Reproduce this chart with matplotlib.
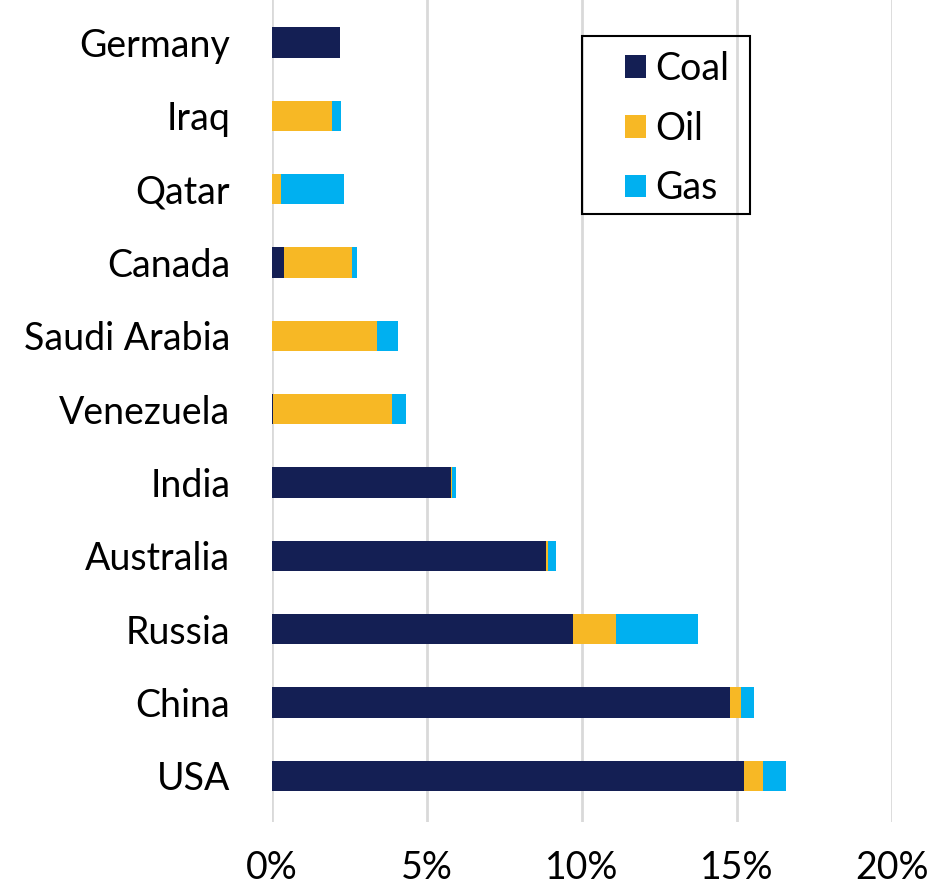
import matplotlib.pyplot as plt
from matplotlib.ticker import FuncFormatter
from matplotlib.patches import Rectangle

countries = ["USA", "China", "Russia", "Australia", "India", "Venezuela",
             "Saudi Arabia", "Canada", "Qatar", "Iraq", "Germany"]
coal = [15.24, 14.79, 9.72, 8.83, 5.76, 0.03, 0.0, 0.39, 0.0, 0.0, 2.19]
oil = [0.61, 0.34, 1.39, 0.07, 0.05, 3.83, 3.38, 2.18, 0.30, 1.94, 0.0]
gas = [0.73, 0.43, 2.64, 0.26, 0.12, 0.47, 0.69, 0.18, 2.01, 0.29, 0.0]

plt.rcParams['font.family'] = ['Lato', 'DejaVu Sans']

W, H = 932, 886
fig = plt.figure(figsize=(W/100, H/100), dpi=100)
ax = fig.add_axes([272/W, 1-822/H, 620/W, 822/H])

y = list(range(len(countries)))
h = 0.41
ax.barh(y, coal, height=h, color="#141f54", label="Coal", zorder=3)
ax.barh(y, oil, height=h, left=coal, color="#f7b825", label="Oil", zorder=3)
left3 = [c + o for c, o in zip(coal, oil)]
ax.barh(y, gas, height=h, left=left3, color="#00b0f0", label="Gas", zorder=3)

ax.set_xlim(0, 20)
ax.set_ylim(-0.63, 10.58)
ax.set_xticks([0, 5, 10, 15, 20])
ax.xaxis.set_major_formatter(FuncFormatter(lambda v, p: f"{v:.0f}%"))
ax.set_yticks(y)
ax.set_yticklabels(countries)
ax.grid(axis="x", color="#d9d9d9", linewidth=2, zorder=0)
for s in ax.spines.values():
    s.set_visible(False)
ax.tick_params(axis="both", length=0, labelsize=27)
ax.tick_params(axis="x", pad=20)
ax.tick_params(axis="y", pad=30)

# legend, with its box drawn by hand
leg = fig.legend(loc="upper left", bbox_to_anchor=(625/W, 1 - 51/H), fontsize=27,
                 frameon=False, handlelength=0.56, handleheight=0.56,
                 handletextpad=0.25, labelspacing=0.63, borderpad=0, borderaxespad=0)
fig.patches.append(Rectangle((582/W, 1 - 214/H), 168/W, 178/H, transform=fig.transFigure,
                             fill=False, edgecolor="black", linewidth=1.5, zorder=5))

plt.savefig("out.png", dpi=100)
